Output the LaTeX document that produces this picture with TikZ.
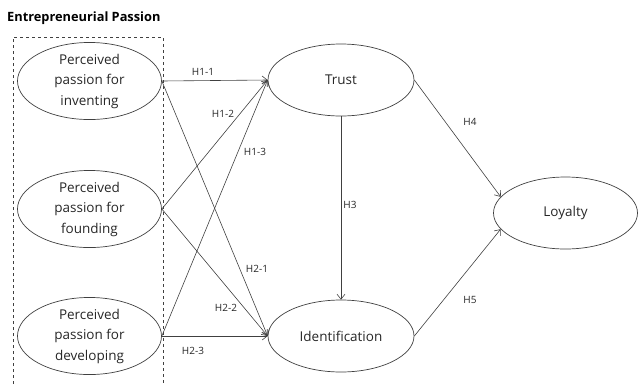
\documentclass[tikz,border=0pt]{standalone}
\usepackage{fontspec}
\setmainfont{Open Sans}
\usetikzlibrary{shapes.geometric,arrows.meta}
\begin{document}
\begin{tikzpicture}[x=1pt,y=-1pt,
  construct/.style={draw=black!75,line width=0.7pt,ellipse,minimum width=144pt,minimum height=72pt,inner sep=0pt,align=center,font=\fontsize{13.5}{20.5}\selectfont,text=black!85},
  path/.style={draw=black!75,line width=0.6pt,-{Straight Barb[length=5pt,width=8pt]}},
  hlab/.style={font=\fontsize{10}{11}\selectfont,text=black!85,inner sep=1pt}]
\useasboundingbox (0,0) rectangle (641,384);
\begin{scope}
\clip (0,0) rectangle (641,384);
\draw[dashed,black!75,line width=0.6pt] (13,390) -- (13,37) -- (163,37) -- (163,390);
\end{scope}
\node[font=\bfseries\fontsize{12.8}{14}\selectfont,anchor=west,inner sep=0pt] (title) at (7,18) {Entrepreneurial Passion};
\node[construct] (inv) at (89.5,81) {Perceived\\passion for\\inventing};
\node[construct] (fou) at (89.5,209) {Perceived\\passion for\\founding};
\node[construct] (dev) at (89.5,336) {Perceived\\passion for\\developing};
\node[construct,minimum width=146pt] (tru) at (341,80) {Trust};
\node[construct,minimum width=146pt] (ide) at (341,336) {Identification};
\node[construct] (loy) at (565.5,213) {Loyalty};
\draw[path] (inv.east) -- (tru.west);
\draw[path] (inv.east) -- (ide.west);
\draw[path] (fou.east) -- (tru.west);
\draw[path] (fou.east) -- (ide.west);
\draw[path] (dev.east) -- (tru.west);
\draw[path] (dev.east) -- (ide.west);
\draw[path] (tru.south) -- (ide.north);
\draw[path] (tru.east) -- (loy.166);
\draw[path] (ide.east) -- (loy.194);
\node[hlab] (l11) at (203,72) {H1-1};
\node[hlab] (l12) at (223,114) {H1-2};
\node[hlab] (l13) at (255,152) {H1-3};
\node[hlab] (l21) at (257,269) {H2-1};
\node[hlab] (l22) at (226,308) {H2-2};
\node[hlab] (l23) at (193,351) {H2-3};
\node[hlab] (l3) at (350,205) {H3};
\node[hlab] (l4) at (470,122) {H4};
\node[hlab] (l5) at (470,300) {H5};
\end{tikzpicture}
\end{document}
